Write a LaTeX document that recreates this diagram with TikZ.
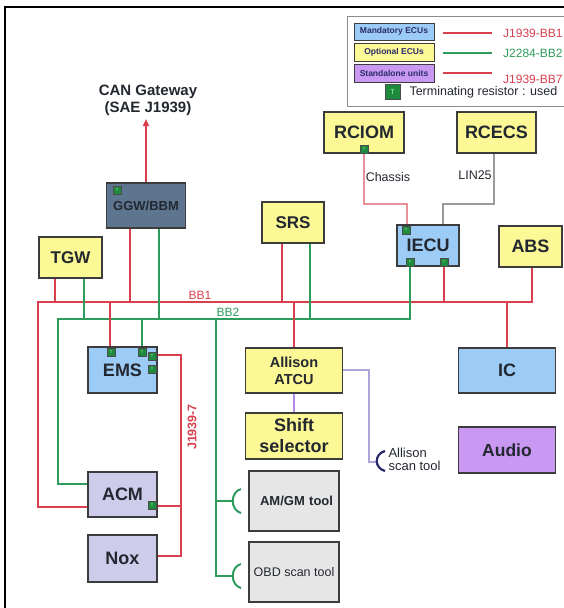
\documentclass[tikz,border=0pt]{standalone}
\usepackage{fontspec}
\setmainfont{Liberation Sans}
\usetikzlibrary{arrows.meta}

\definecolor{busred}{HTML}{D8404E}
\definecolor{busgreen}{HTML}{2E9C5C}
\definecolor{mandblue}{HTML}{9CCBF5}
\definecolor{optyellow}{HTML}{FBF895}
\definecolor{standpurple}{HTML}{C898F2}
\definecolor{unitgrey}{HTML}{CDCDEB}
\definecolor{toolgrey}{HTML}{E6E6E6}
\definecolor{gwslate}{HTML}{5E7590}
\definecolor{boxline}{HTML}{3C3C3C}
\definecolor{labeltext}{HTML}{23272F}
\definecolor{resgreen}{HTML}{1E8A3E}
\definecolor{legendgrey}{HTML}{8C8C8C}
\definecolor{chassispink}{HTML}{E8909A}
\definecolor{linegrey}{HTML}{9A9A9A}
\definecolor{scanlilac}{HTML}{AFA3DA}
\definecolor{shiftlilac}{HTML}{B58AE6}
\definecolor{plugnavy}{HTML}{2B2B6B}

\tikzset{
  ecu/.style={draw=boxline, line width=1.6pt, text=labeltext, inner sep=0pt, align=center,
    font=\bfseries\fontsize{18}{21}\selectfont},
  mand/.style={ecu, fill=mandblue},
  opt/.style={ecu, fill=optyellow},
  stand/.style={ecu, fill=standpurple},
  unit/.style={ecu, fill=unitgrey},
  tool/.style={ecu, fill=toolgrey},
  boxsize/.style 2 args={minimum width=#1pt, minimum height=#2pt},
  keyfont/.style={line width=0.9pt, text=plugnavy, font=\bfseries\fontsize{8.5}{10}\selectfont},
  tres/.style={draw=black!70, fill=resgreen, line width=0.4pt, minimum size=8pt, inner sep=0pt,
    text=green!35, font=\fontsize{4}{4}\selectfont},
  bbone/.style={busred, line width=1.9pt},
  bbtwo/.style={busgreen, line width=1.9pt},
  bbonetext/.style={text=busred, font=\fontsize{12}{14}\selectfont},
  bbtwotext/.style={text=busgreen, font=\fontsize{12}{14}\selectfont},
  small/.style={text=labeltext, font=\fontsize{12.5}{14}\selectfont}
}

\begin{document}
\begin{tikzpicture}[x=1pt,y=-1pt]
\useasboundingbox (0,0) rectangle (564,608);
% frame
\draw[line width=2pt] (5,608) -- (5,7) -- (564,7);

% legend
\draw[legendgrey, line width=1pt] (347,16) rectangle (590,106);
\node[mand,keyfont,boxsize={80}{17}] (keymand) at (394,31.5) {Mandatory ECUs};
\node[opt,keyfont,boxsize={80}{18}] (keyopt) at (394,52) {Optional ECUs};
\node[stand,keyfont,boxsize={80}{18}] (keystand) at (394,73) {Standalone units};
\node[bbonetext,anchor=west,inner sep=0pt] (keybb1) at (503,33) {J1939-BB1};
\node[bbtwotext,anchor=west,inner sep=0pt] (keybb2) at (503,53) {J2284-BB2};
\node[bbonetext,anchor=west,inner sep=0pt] (keybb7) at (503,79) {J1939-BB7};
\draw[bbone] ([xshift=9pt]keymand.east |- keybb1.west) -- ([xshift=-11pt]keybb1.west);
\draw[bbtwo] ([xshift=9pt]keyopt.east |- keybb2.west) -- ([xshift=-11pt]keybb2.west);
\draw[bbone] ([xshift=9pt]keystand.east) -- ([xshift=-11pt]keybb7.west |- keystand.east);
\node[tres,minimum size=15pt,font=\fontsize{7}{7}\selectfont] (keyres) at (392.5,92) {T};
\node[small,anchor=west] (keyrestext) at (406,92) {Terminating resistor : used};

% gateway
\node[ecu,fill=gwslate,boxsize={79}{45},font=\bfseries\fontsize{13}{15}\selectfont] (ggw) at (146,205.5) {GGW/BBM};
\node[text=labeltext,align=center,font=\bfseries\fontsize{15}{17}\selectfont] (gwtext) at (148,100) {CAN Gateway\\(SAE J1939)};
\coordinate (gwtip) at (146,119);
\draw[bbone,-{Triangle[length=7pt,width=6pt]}] (ggw.north) -- (gwtip);

% ECUs
\node[opt,boxsize={63}{41},font=\bfseries\fontsize{17}{20}\selectfont] (tgw) at (70.5,257.5) {TGW};
\node[opt,boxsize={62}{41},font=\bfseries\fontsize{17}{20}\selectfont] (srs) at (293,222.5) {SRS};
\node[opt,boxsize={80}{41}] (rciom) at (364,132.5) {RCIOM};
\node[opt,boxsize={79}{41}] (rcecs) at (496.5,132.5) {RCECS};
\node[mand,boxsize={62}{41}] (iecu) at (428,245.5) {IECU};
\node[opt,boxsize={63}{41}] (abs) at (530.5,246.5) {ABS};
\node[mand,boxsize={69}{46}] (ems) at (122.5,370) {EMS};
\node[unit,boxsize={69}{45}] (acm) at (122.5,494.5) {ACM};
\node[unit,boxsize={69}{47}] (nox) at (122.5,558.5) {Nox};
\node[opt,boxsize={97}{45},font=\bfseries\fontsize{14.5}{17}\selectfont] (atcu) at (294,370.5) {Allison\\ATCU};
\node[opt,boxsize={97}{46}] (shift) at (294,436) {Shift\\selector};
\node[mand,boxsize={97}{45}] (ic) at (507,370.5) {IC};
\node[stand,boxsize={97}{46},font=\bfseries\fontsize{17.5}{20}\selectfont] (audio) at (507,450) {Audio};
\node[tool,boxsize={90}{60},font=\bfseries\fontsize{13}{15}\selectfont,text width=78pt,align=right] (amgm) at (294,501) {AM/GM tool};
\node[tool,boxsize={90}{60},font=\fontsize{12.5}{15}\selectfont] (obd) at (294,572) {OBD scan tool};

% terminating resistors
\node[tres] (tggw) at (117,190) {T};
\node[tres] (trciom) at (364,149) {T};
\node[tres] (tiecua) at (406,230) {T};
\node[tres] (tiecub) at (410,262) {T};
\node[tres] (tiecuc) at (444,262) {T};
\node[tres] (temsa) at (111,352) {T};
\node[tres] (temsb) at (142,352) {T};
\node[tres] (temsc) at (152,356) {T};
\node[tres] (temsd) at (152,369.5) {T};
\node[tres] (tacm) at (152,505.5) {T};

% backbones
\coordinate (bb1w) at (38,302);
\coordinate (bb1e) at (532,302);
\coordinate (bb2w) at (58,319);
\coordinate (bb2e) at (410,319);
\draw[bbone] ([yshift=-12.5pt]acm.west) -| (bb1w) -- (bb1e) -- (bb1e |- abs.south);
\draw[bbtwo] ([yshift=10.5pt]acm.west) -| (bb2w) -- (bb2e) -- (bb2e |- iecu.south);
\node[bbonetext] (bb1lbl) at (200,295) {BB1};
\node[bbtwotext] (bb2lbl) at (228,312) {BB2};

\draw[bbone] ([xshift=-15.5pt]tgw.south) -- ([xshift=-15.5pt]tgw.south |- bb1w);
\draw[bbtwo] ([xshift=13.5pt]tgw.south) -- ([xshift=13.5pt]tgw.south |- bb2w);
\draw[bbone] ([xshift=-16pt]ggw.south) -- ([xshift=-16pt]ggw.south |- bb1w);
\draw[bbtwo] ([xshift=13pt]ggw.south) -- ([xshift=13pt]ggw.south |- bb2w);
\draw[bbone] ([xshift=-12.5pt]ems.north) -- ([xshift=-12.5pt]ems.north |- bb1w);
\draw[bbtwo] ([xshift=19.5pt]ems.north) -- ([xshift=19.5pt]ems.north |- bb2w);
\draw[bbone] ([xshift=-11pt]srs.south) -- ([xshift=-11pt]srs.south |- bb1w);
\draw[bbtwo] ([xshift=17pt]srs.south) -- ([xshift=17pt]srs.south |- bb2w);
\draw[bbone] ([xshift=16pt]iecu.south) -- ([xshift=16pt]iecu.south |- bb1w);
\draw[bbone] (atcu.north) -- (atcu.north |- bb1w);
\draw[bbone] (ic.north) -- (ic.north |- bb1w);

% J1939-7
\coordinate (jnox) at (181,556);
\draw[bbone] ([yshift=15pt]ems.east) -| (jnox) -- ([yshift=2.5pt]nox.east);
\draw[bbone] ([yshift=-11.5pt]acm.east) -- ([yshift=-11.5pt]acm.east -| jnox);
\node[bbonetext,font=\bfseries\fontsize{12.5}{14}\selectfont,rotate=90] (j17lbl) at (192,427) {J1939-7};

% tools on BB2
\coordinate (toolbus) at (216,576);
\coordinate (amgmplug) at (233,501);
\coordinate (obdplug) at (233,576);
\draw[bbtwo] (toolbus |- bb2w) -- (toolbus) -- (obdplug);
\draw[bbtwo] (amgmplug -| toolbus) -- (amgmplug);
\draw[bbtwo,line width=2pt] (241,489) .. controls (230,492) and (230,510) .. (241,513);
\draw[bbtwo,line width=2pt] (241,564) .. controls (230,567) and (230,585) .. (241,588);

% sub-networks
\draw[chassispink,line width=1.4pt] (rciom.south) -- ++(0,50) -| ([xshift=-21pt]iecu.north);
\draw[linegrey,line width=1.6pt] ([xshift=-2.5pt]rcecs.south) -- ++(0,50) -| ([xshift=15pt]iecu.north);
\node[small] (chassislbl) at (388,177) {Chassis};
\node[small] (linlbl) at (475,175) {LIN25};
\draw[shiftlilac,line width=1.6pt] (atcu.south) -- (shift.north);

% Allison scan tool
\coordinate (scanbend) at (369,462);
\coordinate (scanplug) at (377,462);
\draw[scanlilac,line width=1.4pt] ([yshift=0.5pt]atcu.east) -| (scanbend) -- (scanplug);
\draw[plugnavy,line width=2.2pt] (385,451) .. controls (374,454) and (374,468) .. (385,471);
\node[text=labeltext,anchor=west,align=left,font=\fontsize{13}{12.5}\selectfont] (scanlbl) at (385,459.5) {Allison\\scan tool};
\end{tikzpicture}
\end{document}
